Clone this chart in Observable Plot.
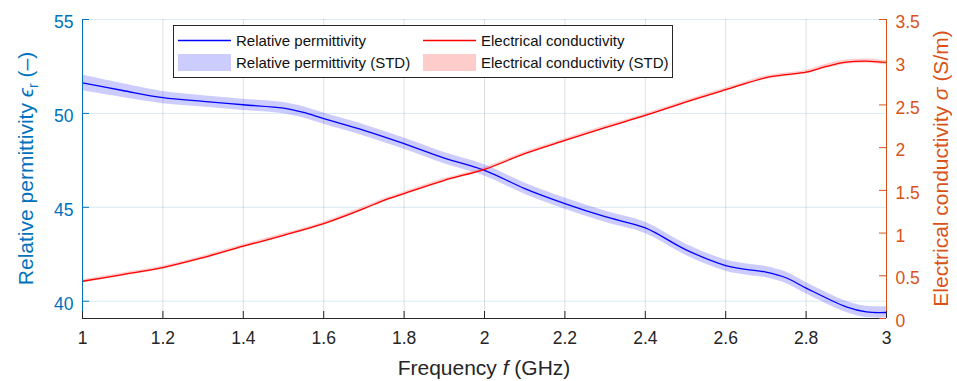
<!DOCTYPE html>
<html>
<head>
<meta charset="utf-8">
<script src="https://cdn.jsdelivr.net/npm/d3@7"></script>
<script src="https://cdn.jsdelivr.net/npm/@observablehq/plot@0.6"></script>
<style>
  html, body { margin: 0; padding: 0; background: #fff; }
  #chart { width: 957px; height: 381px; }
</style>
</head>
<body>
<div id="chart"></div>
<script>
// ---- Data ----
const permFreq = [1.0, 1.1, 1.2, 1.3, 1.4, 1.5, 1.55, 1.6, 1.7, 1.8, 1.9, 2.0, 2.1, 2.2, 2.3, 2.4, 2.5, 2.6, 2.65, 2.7, 2.75, 2.8, 2.9, 2.95, 3.0];
const permVals = [51.63, 51.22, 50.84, 50.64, 50.46, 50.28, 50.05, 49.72, 49.1, 48.39, 47.62, 46.97, 46.0, 45.2, 44.5, 43.9, 42.75, 41.9, 41.7, 41.55, 41.25, 40.7, 39.7, 39.43, 39.4];
const permStd  = [0.42, 0.37, 0.32, 0.3, 0.3, 0.3, 0.3, 0.3, 0.3, 0.3, 0.3, 0.3, 0.3, 0.3, 0.3, 0.3, 0.3, 0.3, 0.3, 0.3, 0.3, 0.3, 0.3, 0.3, 0.3];

const condFreq = [1.0, 1.1, 1.2, 1.3, 1.4, 1.5, 1.6, 1.7, 1.75, 1.8, 1.9, 2.0, 2.1, 2.2, 2.3, 2.4, 2.5, 2.6, 2.7, 2.75, 2.8, 2.85, 2.9, 2.95, 3.0];
const condVals = [0.436, 0.514, 0.596, 0.713, 0.846, 0.974, 1.111, 1.287, 1.384, 1.462, 1.618, 1.746, 1.93, 2.085, 2.235, 2.378, 2.533, 2.678, 2.819, 2.854, 2.884, 2.95, 3.0, 3.013, 2.994];
const condStd  = [0.02, 0.02, 0.02, 0.02, 0.02, 0.02, 0.02, 0.02, 0.02, 0.02, 0.02, 0.02, 0.02, 0.02, 0.02, 0.02, 0.02, 0.02, 0.02, 0.02, 0.02, 0.025, 0.025, 0.025, 0.025];

const xTicks = [1, 1.2, 1.4, 1.6, 1.8, 2, 2.2, 2.4, 2.6, 2.8, 3];
const permTicks = [40, 45, 50, 55];
const condTicks = [0, 0.5, 1, 1.5, 2, 2.5, 3, 3.5];
const xDomain = [1, 3];
const permDomain = [39.08, 55];
const condDomain = [0, 3.5];

const legendLabels = ["Relative permittivity", "Relative permittivity (STD)", "Electrical conductivity", "Electrical conductivity (STD)"];

// ---- Styles ----
const BLUE_AXIS = "#0072BD";
const ORANGE_AXIS = "#D95319";
const DARK = "#262626";
const FONT = "'Liberation Sans', Arial, Helvetica, sans-serif";

// right-axis values mapped onto the left-axis scale
const toLeft = d3.scaleLinear().domain(condDomain).range(permDomain);

const perm = permFreq.map((f, i) => ({f, v: permVals[i], lo: permVals[i] - permStd[i], hi: permVals[i] + permStd[i]}));
const cond = condFreq.map((f, i) => ({f, v: toLeft(condVals[i]), lo: toLeft(condVals[i] - condStd[i]), hi: toLeft(condVals[i] + condStd[i])}));

const W = 957, H = 381, ML = 82, MR = 71, MT = 19, MB = 63;
const plotW = W - ML - MR, plotH = H - MT - MB;
const TICK = 7;

const chart = Plot.plot({
  width: W, height: H,
  marginLeft: ML, marginRight: MR, marginTop: MT, marginBottom: MB,
  x: {domain: xDomain},
  y: {domain: permDomain},
  style: {fontFamily: FONT, background: "#fff", overflow: "visible"},
  marks: [
    Plot.gridX(xTicks, {stroke: DARK, strokeOpacity: 0.15}),
    Plot.gridY(permTicks, {stroke: BLUE_AXIS, strokeOpacity: 0.15}),
    Plot.areaY(perm, {x: "f", y1: "lo", y2: "hi", fill: "#0000ff", fillOpacity: 0.2, curve: "catmull-rom"}),
    Plot.lineY(perm, {x: "f", y: "v", stroke: "#0000ff", strokeWidth: 1.3, curve: "catmull-rom"}),
    Plot.areaY(cond, {x: "f", y1: "lo", y2: "hi", fill: "#ff0000", fillOpacity: 0.2, curve: "catmull-rom"}),
    Plot.lineY(cond, {x: "f", y: "v", stroke: "#ff0000", strokeWidth: 1.3, curve: "catmull-rom"}),
    // axis lines
    Plot.ruleY([permDomain[0]], {stroke: DARK, strokeWidth: 1}),
    Plot.ruleX([xDomain[0]], {stroke: BLUE_AXIS, strokeWidth: 1}),
    Plot.ruleX([xDomain[1]], {stroke: ORANGE_AXIS, strokeWidth: 1}),
    // inward tick marks
    Plot.ruleX(xTicks, {x: d => d, stroke: DARK, insetTop: plotH - TICK}),
    Plot.ruleY(permTicks, {y: d => d, stroke: BLUE_AXIS, insetRight: plotW - TICK}),
    Plot.ruleY(condTicks.map(toLeft), {y: d => d, stroke: ORANGE_AXIS, insetLeft: plotW - TICK}),
    // tick labels
    Plot.axisX(xTicks, {tickSize: 0, tickPadding: 13, fontSize: 17.5, color: DARK, label: null, tickFormat: d => String(d)}),
    Plot.axisY(permTicks, {anchor: "left", tickSize: 0, tickPadding: 9, fontSize: 17.5, color: BLUE_AXIS, label: null, dy: 3}),
    Plot.axisY(condTicks.map(toLeft), {anchor: "right", tickSize: 0, tickPadding: 9, fontSize: 17.5, color: ORANGE_AXIS, label: null, dy: 3,
      tickFormat: d => String(+toLeft.invert(d).toFixed(2))})
  ]
});
document.getElementById("chart").appendChild(chart);

const svg = d3.select(chart);

// ---- Axis labels ----
const lx = svg.append("text")
  .attr("x", 484).attr("y", 375)
  .attr("text-anchor", "middle").attr("fill", DARK)
  .style("font-size", "21px").style("font-family", FONT);
lx.append("tspan").text("Frequency ");
lx.append("tspan").style("font-style", "italic").text("f");
lx.append("tspan").text(" (GHz)");

const ly = svg.append("text")
  .attr("transform", `translate(33,${MT + plotH / 2}) rotate(-90)`)
  .attr("text-anchor", "middle").attr("fill", BLUE_AXIS)
  .style("font-size", "21px").style("font-family", FONT);
ly.append("tspan").text("Relative permittivity ");
ly.append("tspan").style("font-style", "italic").text("ϵ");
ly.append("tspan").attr("dy", 5).style("font-size", "14px").text("r");
ly.append("tspan").attr("dy", -5).text(" (–)");

const ry = svg.append("text")
  .attr("transform", `translate(948,${MT + plotH / 2}) rotate(-90)`)
  .attr("text-anchor", "middle").attr("fill", ORANGE_AXIS)
  .style("font-size", "21px").style("font-family", FONT);
ry.append("tspan").text("Electrical conductivity ");
ry.append("tspan").style("font-style", "italic").text("σ");
ry.append("tspan").text(" (S/m)");

// ---- Legend (inside the axes, MATLAB style) ----
const lg = svg.append("g").attr("transform", "translate(173,25)");
lg.append("rect").attr("x", 0.5).attr("y", 0.5).attr("width", 499).attr("height", 52)
  .attr("fill", "#fff").attr("stroke", DARK).attr("stroke-width", 1);
const cols = [5, 250];
const items = [
  {col: 0, row: 0, type: "line", color: "#0000ff", label: legendLabels[0]},
  {col: 0, row: 1, type: "patch", color: "#0000ff", label: legendLabels[1]},
  {col: 1, row: 0, type: "line", color: "#ff0000", label: legendLabels[2]},
  {col: 1, row: 1, type: "patch", color: "#ff0000", label: legendLabels[3]}
];
items.forEach(it => {
  const x0 = cols[it.col];
  const cy = it.row === 0 ? 15.5 : 37.5;
  if (it.type === "line") {
    lg.append("line").attr("x1", x0).attr("x2", x0 + 53).attr("y1", cy).attr("y2", cy)
      .attr("stroke", it.color).attr("stroke-width", 1.3);
  } else {
    lg.append("rect").attr("x", x0).attr("y", cy - 8.5).attr("width", 53).attr("height", 17)
      .attr("fill", it.color).attr("fill-opacity", 0.2);
  }
  lg.append("text").attr("x", x0 + 58).attr("y", cy + 5.5)
    .attr("text-anchor", "start")
    .attr("fill", "#111").style("font-size", "15px").style("font-family", FONT)
    .text(it.label);
});
</script>
</body>
</html>
